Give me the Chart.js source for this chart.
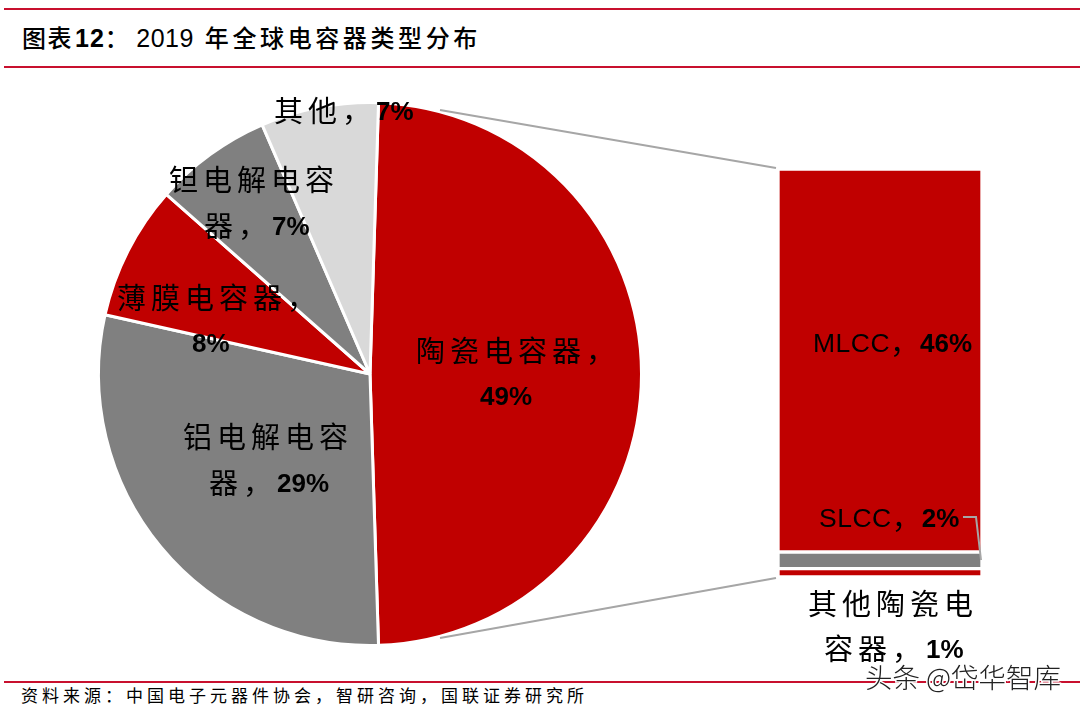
<!DOCTYPE html>
<html>
<head>
<meta charset="utf-8">
<script src="https://cdn.jsdelivr.net/npm/chart.js@4"></script>
<style>
body { margin: 0; background: #fff; width: 1080px; height: 710px; overflow: hidden; position: relative; font-family: "Noto Sans CJK SC", sans-serif; color: #000; }
canvas { position: absolute; left: 0; top: 0; }
.rule { position: absolute; left: 4px; right: 0; height: 2px; background: #c8102e; }
#title { position: absolute; left: 22px; top: 19px; font-size: 24px; line-height: 36px; white-space: nowrap; letter-spacing: 1.5px; font-weight: 500; }
#title b { font-family: "Liberation Sans", sans-serif; letter-spacing: 1px; font-size: 25px; margin-left: 2px; }
#title .num { font-family: "Liberation Sans", sans-serif; letter-spacing: 0.5px; font-size: 25px; margin-left: 6px; }
#title .rest { letter-spacing: 3.6px; margin-left: 4px; }
#source { position: absolute; left: 21px; top: 683px; font-size: 17px; line-height: 24px; letter-spacing: 4px; white-space: nowrap; }
#mark { position: absolute; left: 865px; top: 656px; font-size: 27.5px; line-height: 40px; white-space: nowrap; color: #222; font-weight: 300; -webkit-text-stroke: 3px #fff; paint-order: stroke fill; }
</style>
</head>
<body>
<div class="rule" style="top:8px"></div>
<div class="rule" style="top:66px"></div>
<div class="rule" style="top:681px"></div>
<div id="title">图表<b>12</b>：<span class="num">2019</span> <span class="rest">年全球电容器类型分布</span></div>
<div id="source">资料来源：中国电子元器件协会，智研咨询，国联证券研究所</div>
<canvas id="pieChart" width="1080" height="710"></canvas>
<canvas id="barChart" width="1080" height="710"></canvas>
<div id="mark">头条 @岱华智库</div>
<script>
const pieCategories = ['陶瓷电容器', '铝电解电容器', '薄膜电容器', '钽电解电容器', '其他'];
const pieValues = [49, 29, 8, 7, 7];
const pieColors = ['#c00000', '#808080', '#c00000', '#808080', '#d9d9d9'];

const barCategories = ['其他陶瓷电容器', 'SLCC', 'MLCC'];
const barValues = [1, 2, 46];
const barColors = ['#c00000', '#808080', '#c00000'];

// where each label wraps, and the left end and middle of each of its rows
const pieLabelBreaks = [6, 5, 6, 5, 99];
const pieLabelRows = [[[416, 351], [480, 396]], [[183, 437], [209, 483]], [[117, 298], [192, 343]], [[169, 180], [204, 226]], [[274, 111]]];
const barLabelBreaks = [5, 99, 99];
const barLabelRows = [[[808, 604], [824, 649]], [[819, 518]], [[813, 343]]];

function drawRow(ctx, text, x, y) {
    // chinese keeps the wide spacing, latin and numbers do not
    var afterLatin = false;
    text.split(/([A-Za-z]+|[0-9%]+)/).filter(s => s).forEach(s => {
        var dy = 2;
        if (/^[A-Za-z]/.test(s)) {
            ctx.font = '26.5px "Liberation Sans"';
            ctx.letterSpacing = '0.5px';
        } else if (/^[0-9%]/.test(s)) {
            ctx.font = 'bold 26px "Liberation Sans"';
            ctx.letterSpacing = '0px';
        } else {
            ctx.font = '29px "Noto Sans CJK SC"';
            ctx.letterSpacing = '5px';
            dy = 0;
        }
        ctx.fillText(s, x, y + dy);
        x += ctx.measureText(s).width - (afterLatin ? 4 : 0);
        afterLatin = /^[A-Za-z]/.test(s);
    });
}

function drawLabels(ctx, cats, vals, breaks, rows) {
    ctx.save();
    ctx.fillStyle = '#000';
    ctx.textAlign = 'left';
    ctx.textBaseline = 'middle';
    cats.forEach((c, i) => {
        var text = c + '，' + vals[i] + '%';
        var parts = [text.slice(0, breaks[i]), text.slice(breaks[i])].filter(p => p);
        parts.forEach((p, k) => drawRow(ctx, p, rows[i][k][0], rows[i][k][1]));
    });
    ctx.restore();
}

function drawLine(ctx, pts) {
    ctx.save();
    ctx.strokeStyle = '#a6a6a6';
    ctx.lineWidth = 2;
    ctx.beginPath();
    pts.forEach((p, i) => i ? ctx.lineTo(p[0], p[1]) : ctx.moveTo(p[0], p[1]));
    ctx.stroke();
    ctx.restore();
}

new Chart(document.getElementById('pieChart'), {
    type: 'pie',
    data: {
        labels: pieCategories,
        datasets: [{ data: pieValues, backgroundColor: pieColors, borderColor: '#fff', borderWidth: 3 }]
    },
    options: {
        responsive: false,
        animation: false,
        rotation: 1.8,
        layout: { padding: { left: 97, right: 437, top: 101, bottom: 63 } },
        plugins: { legend: { display: false }, tooltip: { enabled: false } }
    },
    plugins: [{
        id: 'connectors',
        afterDraw(chart) {
            drawLine(chart.ctx, [[440, 110], [776, 168]]);
            drawLine(chart.ctx, [[440, 638], [776, 578]]);
        }
    }]
});

new Chart(document.getElementById('barChart'), {
    type: 'bar',
    data: {
        labels: ['陶瓷电容器'],
        datasets: barCategories.map((c, i) => ({
            label: c,
            data: [barValues[i]],
            backgroundColor: barColors[i],
            borderColor: '#fff',
            borderWidth: 2,
            borderSkipped: false,
            barPercentage: 1,
            categoryPercentage: 1
        }))
    },
    options: {
        responsive: false,
        animation: false,
        layout: { padding: { left: 778, right: 98, top: 169, bottom: 133 } },
        scales: {
            x: { stacked: true, display: false },
            y: { stacked: true, display: false, min: 0, max: 49 }
        },
        plugins: { legend: { display: false }, tooltip: { enabled: false } }
    },
    plugins: [{
        id: 'labels',
        afterDraw(chart) {
            drawLine(chart.ctx, [[963, 517], [976, 517], [981, 560]]);
            drawLabels(chart.ctx, pieCategories, pieValues, pieLabelBreaks, pieLabelRows);
            drawLabels(chart.ctx, barCategories, barValues, barLabelBreaks, barLabelRows);
        }
    }]
});
</script>
</body>
</html>
